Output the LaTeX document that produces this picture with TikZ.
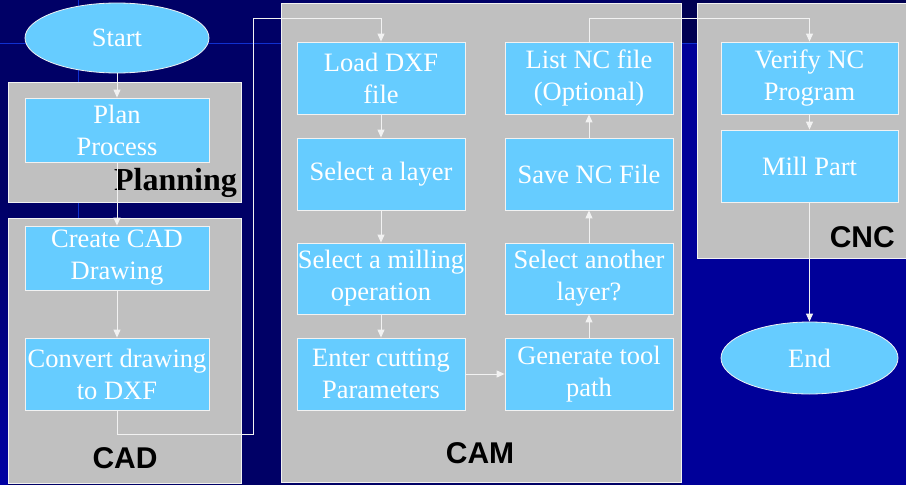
\documentclass[tikz,border=0pt]{standalone}
\usepackage{fontspec}
\setmainfont{Liberation Serif}
\setsansfont{Liberation Sans}
\usetikzlibrary{arrows.meta,shapes.geometric}

\definecolor{navydark}{HTML}{000066}
\definecolor{navy}{HTML}{000099}
\definecolor{gridblue}{HTML}{1030D0}
\definecolor{panel}{HTML}{C0C0C0}
\definecolor{stepfill}{HTML}{66CCFF}
\definecolor{edge}{HTML}{F2F2F2}

\tikzset{
  panelbox/.style={draw=edge, fill=panel, line width=0.8pt},
  stepbox/.style={rectangle, draw=edge, fill=stepfill, line width=0.8pt,
    text=white, align=center, inner sep=0pt,
    font=\fontsize{26.5}{32}\selectfont},
  terminal/.style={ellipse, draw=edge, fill=stepfill, line width=0.8pt,
    text=white, inner sep=0pt, font=\fontsize{26.5}{32}\selectfont},
  conn/.style={draw=edge, line width=1pt,
    -{Triangle[length=8pt,width=7pt]}},
  seriflabel/.style={font=\bfseries\fontsize{32}{36}\selectfont, text=black, inner sep=0pt},
  sanslabel/.style={font=\sffamily\bfseries\fontsize{30}{34}\selectfont, text=black, inner sep=0pt}
}

\begin{document}
\begin{tikzpicture}[x=1pt,y=-1pt]
\useasboundingbox (0,0) rectangle (906,485);

% backdrop
\fill[navydark] (0,0) rectangle (906,485);
\shade[top color=navydark, bottom color=navy!90!blue] (0,200) rectangle (8,485);
\fill[navy] (681,43) rectangle (906,485);
\fill[navydark!80!black] (681,0) rectangle (906,43);
\draw[gridblue, line width=1pt] (0,43) -- (906,43);
\draw[gridblue, line width=1pt] (78,0) -- (78,220);

% stage panels
\draw[panelbox] (8,82) rectangle (241,202);
\draw[panelbox] (8,218) rectangle (241,483);
\draw[panelbox] (281,3) rectangle (681,482);
\draw[panelbox] (697,3) rectangle (912,258);

\node[seriflabel, anchor=base east] (lplan) at (237,190) {Planning};
\node[sanslabel, anchor=base] (lcad) at (125,468) {CAD};
\node[sanslabel, anchor=base] (lcam) at (480,463) {CAM};
\node[sanslabel, anchor=base east] (lcnc) at (895,247) {CNC};

% terminals
\node[terminal, minimum width=184pt, minimum height=70pt] (start) at (117,38) {Start};
\node[terminal, minimum width=177pt, minimum height=72pt] (end) at (809.5,358) {End};

% planning and CAD steps
\node[stepbox, minimum width=184pt, minimum height=64pt] (plan) at (117,130) {Plan\\Process};
\node[stepbox, minimum width=184pt, minimum height=64pt] (create) at (117,258) {Create CAD\\Drawing};
\node[stepbox, minimum width=184pt, minimum height=72pt] (conv) at (117,374) {Convert drawing\\to DXF};

% CAM steps, left column
\node[stepbox, minimum width=168pt, minimum height=72pt] (load) at (381,78) {Load DXF\\file};
\node[stepbox, minimum width=168pt, minimum height=72pt] (layer) at (381,174) {Select a layer};
\node[stepbox, minimum width=168pt, minimum height=71pt] (mill) at (381,278.5) {Select a milling\\operation};
\node[stepbox, minimum width=168pt, minimum height=72pt] (enter) at (381,374) {Enter cutting\\Parameters};

% CAM steps, right column
\node[stepbox, minimum width=168pt, minimum height=72pt] (list) at (589,78) {List NC file\\(Optional)};
\node[stepbox, minimum width=168pt, minimum height=72pt] (save) at (589,174) {Save NC File};
\node[stepbox, minimum width=168pt, minimum height=71pt] (another) at (589,278.5) {Select another\\layer?};
\node[stepbox, minimum width=168pt, minimum height=72pt] (gen) at (589,374) {Generate tool\\path};

% CNC steps
\node[stepbox, minimum width=177pt, minimum height=72pt] (verify) at (809.5,78) {Verify NC\\Program};
\node[stepbox, minimum width=177pt, minimum height=72pt] (millpart) at (809.5,166) {Mill Part};

% connectors
\draw[conn] (start.south) -- (plan.north);
\draw[conn] (plan.south) -- (create.north);
\draw[conn] (create.south) -- (conv.north);
\draw[conn] (conv.south) -- (conv.south |- 0,434) -- (253,434) -- (253,18) -- (load.north |- 0,18) -- (load.north);
\draw[conn] (load.south) -- (layer.north);
\draw[conn] (layer.south) -- (mill.north);
\draw[conn] (mill.south) -- (enter.north);
\draw[conn] (enter.east) -- (gen.west);
\draw[conn] (gen.north) -- (another.south);
\draw[conn] (another.north) -- (save.south);
\draw[conn] (save.north) -- (list.south);
\draw[conn] (list.north) -- (list.north |- 0,18) -- (verify.north |- 0,18) -- (verify.north);
\draw[conn] (verify.south) -- (millpart.north);
\draw[conn] (millpart.south) -- (end.north);
\end{tikzpicture}
\end{document}
